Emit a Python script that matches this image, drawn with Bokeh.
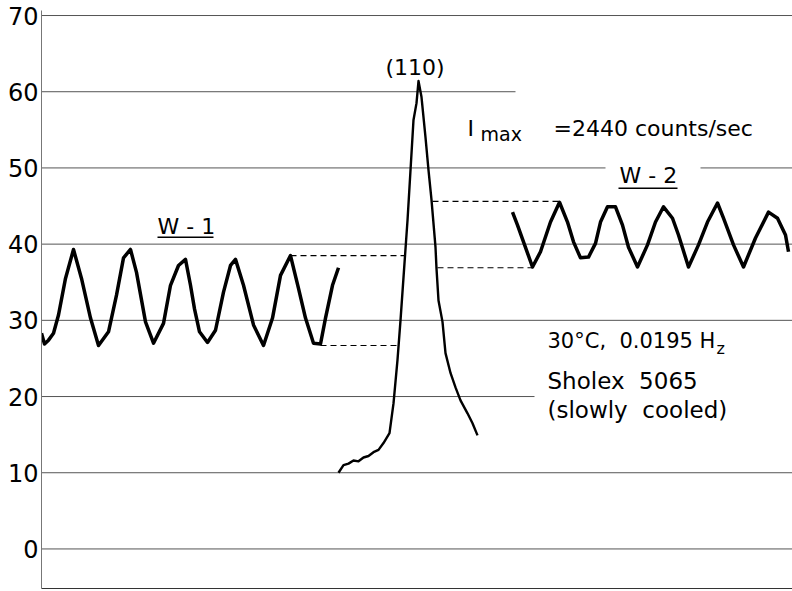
from bokeh.plotting import figure
from bokeh.models import Range1d, FixedTicker, Label
from bokeh.embed import file_html
from bokeh.resources import INLINE

# ---------------- data (x = recorder chart position, y = chart reading) -------------
w1_x = [0, 3, 7, 12, 17, 24, 32, 40, 49, 57, 67, 75, 82, 89, 95, 104, 112, 122, 129,
        137, 144, 149, 153, 158, 166, 174, 182, 189, 194, 202, 212, 222, 231, 239, 249,
        257, 264, 272, 279, 284, 291, 297]
w1_y = [28.3, 26.9, 27.4, 28.3, 30.7, 35.5, 39.3, 35.5, 30.3, 26.7, 28.5, 33.3, 38.2,
        39.3, 36.3, 29.8, 27.0, 29.6, 34.6, 37.2, 38.0, 34.6, 31.5, 28.5, 27.1, 28.7,
        33.7, 37.2, 38.0, 34.6, 29.4, 26.7, 30.3, 35.9, 38.5, 34.2, 30.3, 27.0, 26.9,
        30.3, 34.6, 36.9]

peak_x = [297, 302, 307, 312, 317, 322, 327, 332, 337, 342, 348, 352, 356, 359, 363,
          366, 369, 372, 375, 377, 380, 384, 387, 390, 394, 395, 397, 401, 404, 409,
          414, 419, 426, 431, 436]
peak_y = [10.0, 11.0, 11.2, 11.6, 11.5, 12.0, 12.2, 12.7, 13.0, 13.9, 15.2, 19.1, 24.8,
          30.0, 37.5, 43.1, 49.7, 56.3, 58.5, 61.4, 59.3, 54.0, 49.7, 45.8, 39.6, 36.8,
          32.6, 29.8, 25.7, 23.1, 21.2, 19.5, 17.8, 16.5, 14.9]

w2_x = [471, 476, 482, 491, 499, 509, 518, 526, 532, 539, 547, 554, 559, 566, 574, 581,
        587, 596, 606, 614, 622, 631, 637, 647, 657, 666, 676, 682, 692, 702, 714, 727,
        736, 744, 747]
w2_y = [44.2, 42.5, 40.3, 37.0, 39.0, 42.9, 45.5, 42.9, 40.3, 38.2, 38.3, 40.1, 42.9,
        44.9, 44.9, 42.5, 39.6, 37.0, 39.9, 42.9, 44.9, 43.4, 41.2, 37.0, 39.9, 42.9,
        45.4, 43.4, 39.9, 37.0, 40.8, 44.2, 43.4, 41.2, 39.0]

# dashed connectors: amplitude of the wiggles transferred onto the (110) peak
dash_y = [38.5, 26.7, 45.6, 36.9]
dash_x0 = [249, 279, 391, 396]
dash_x1 = [363, 357, 518, 491]

# horizontal chart rulings (value, start, end)
grid_y = [70, 60, 50, 50, 40, 30, 20, 10, 0]
grid_x0 = [0, 0, 0, 659, 0, 0, 0, 0, 0]
grid_x1 = [751, 474, 564, 751, 751, 751, 493, 751, 751]

y_ticks = [0, 10, 20, 30, 40, 50, 60, 70]

FONT = "DejaVu Sans"
NB = "\u00a0"

p = figure(width=792, height=590, output_backend="svg", toolbar_location=None,
           x_range=Range1d(0, 751), y_range=Range1d(-5.19, 70.66),
           min_border_left=41, min_border_right=0, min_border_top=10, min_border_bottom=2)
p.outline_line_color = None
p.background_fill_color = "white"
p.border_fill_color = "white"
p.xgrid.visible = False
p.ygrid.visible = False

ax = p.yaxis[0]
ax.ticker = FixedTicker(ticks=y_ticks)
ax.major_label_text_font = FONT
ax.major_label_text_font_size = "24px"
ax.major_label_text_color = "black"
ax.major_label_standoff = 3
ax.major_tick_out = 0
ax.major_tick_in = 0
ax.minor_tick_out = 0
ax.minor_tick_in = 0
ax.axis_line_color = "#777777"

bx = p.xaxis[0]
bx.ticker = FixedTicker(ticks=[])
bx.major_tick_out = 0
bx.major_tick_in = 0
bx.minor_tick_out = 0
bx.minor_tick_in = 0
bx.axis_line_color = "#333333"
bx.major_label_text_font_size = "0px"

p.segment(x0=grid_x0, y0=grid_y, x1=grid_x1, y1=grid_y, line_color="#555555", line_width=1)
p.segment(x0=dash_x0, y0=dash_y, x1=dash_x1, y1=dash_y, line_color="black",
          line_width=1.2, line_dash="6 4")

p.line(w1_x, w1_y, line_color="black", line_width=3.5, line_join="round")
p.line(peak_x, peak_y, line_color="black", line_width=2.4, line_join="round")
p.line(w2_x, w2_y, line_color="black", line_width=3.5, line_join="round")

def lab(x, y, t, size="22px"):
    p.add_layout(Label(x=x, y=y, y_offset=7, text=t, text_font=FONT, text_font_size=size,
                       text_color="black", text_baseline="alphabetic", text_align="left"))

lab(116, 41.4, "W - 1")
lab(578, 48.1, "W - 2")
p.line([116, 172], [40.9, 40.9], line_color="black", line_width=1.5)
p.line([577, 636], [47.35, 47.35], line_color="black", line_width=1.5)
lab(344, 62.2, "(110)", "22px")
lab(426, 54.3, "I", "22px")
lab(439, 53.6, "max", "19px")
lab(512, 54.3, "=2440 counts/sec", "22px")
lab(506, 26.35, "30°C," + NB + NB + "0.0195 H", "21px")
lab(675, 25.4, "z", "16px")
lab(506, 21.1, "Sholex" + NB + NB + "5065", "23px")
lab(506, 17.3, "(slowly" + NB + NB + "cooled)", "23px")

open("out.html", "w").write(file_html(p, INLINE))
